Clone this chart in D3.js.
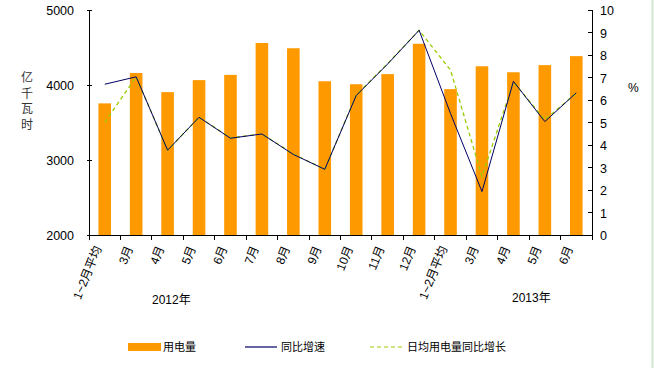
<!DOCTYPE html>
<html><head><meta charset="utf-8">
<script src="https://cdn.jsdelivr.net/npm/d3@7"></script>
<style>body{margin:0;background:#fff}svg{display:block}text{font-family:"Liberation Sans","Noto Sans CJK SC",sans-serif;fill:#000}</style>
</head><body>
<script>
const categories = ["1~2月平均","3月","4月","5月","6月","7月","8月","9月","10月","11月","12月","1~2月平均","3月","4月","5月","6月"];
const usage = [3755, 4160, 3905, 4065, 4135, 4560, 4490, 4050, 4010, 4145, 4550, 3945, 4250, 4170, 4265, 4385];
const yoy = [6.7, 7.03, 3.77, 5.23, 4.3, 4.49, 3.58, 2.92, 6.2, 7.6, 9.1, 5.4, 1.93, 6.83, 5.04, 6.32];
const dailyYoy = [5.0, 7.03, 3.77, 5.23, 4.32, 4.49, 3.6, 2.92, 6.22, 7.62, 9.1, 7.33, 2.6, 6.8, 5.12, 6.3];
const leftTicks = [2000, 3000, 4000, 5000];
const rightTicks = [0,1,2,3,4,5,6,7,8,9,10];
const years = ["2012年", "2013年"];
const seriesNames = ["用电量", "同比增速", "日均用电量同比增长"];

const W = 654, H = 368;
const svg = d3.select("body").append("svg").attr("width", W).attr("height", H);
svg.append("rect").attr("width", W).attr("height", H).attr("fill", "#fff");
svg.append("line").attr("x1", 652.5).attr("x2", 652.5).attr("y1", 0).attr("y2", H).attr("stroke", "#cfe8cf").attr("stroke-width", 2);

const L = 89, R = 592, T = 10, B = 235;
const x = d3.scaleBand().domain(d3.range(categories.length)).range([L, R]);
const yL = d3.scaleLinear().domain([2000, 5000]).range([B, T]);
const yR = d3.scaleLinear().domain([0, 10]).range([B, T]);
const bw = x.bandwidth() * 0.4;

// bars
svg.append("g").selectAll("rect").data(usage).join("rect")
  .attr("x", (d, i) => x(i) + x.bandwidth() / 2 - bw / 2)
  .attr("y", d => yL(d)).attr("width", bw).attr("height", d => yL(2000) - yL(d))
  .attr("fill", "#FF9900");

// lines
const line = d3.line().x((d, i) => x(i) + x.bandwidth() / 2);
svg.append("path").datum(dailyYoy).attr("d", line.y(d => yR(d)))
  .attr("fill", "none").attr("stroke", "#99CC00").attr("stroke-width", 1.3).attr("stroke-dasharray", "4,3");
svg.append("path").datum(yoy).attr("d", line.y(d => yR(d)))
  .attr("fill", "none").attr("stroke", "#000066").attr("stroke-width", 1);

// axes
const ax = svg.append("g").attr("stroke", "#000").attr("stroke-width", 1).attr("shape-rendering", "crispEdges");
ax.append("line").attr("x1", L).attr("x2", L).attr("y1", T).attr("y2", B);
ax.append("line").attr("x1", R).attr("x2", R).attr("y1", T).attr("y2", B);
ax.append("line").attr("x1", L).attr("x2", R).attr("y1", B).attr("y2", B);
leftTicks.forEach(t => ax.append("line").attr("x1", L - 2).attr("x2", L + 3).attr("y1", yL(t)).attr("y2", yL(t)));
rightTicks.forEach(t => ax.append("line").attr("x1", R - 4).attr("x2", R).attr("y1", yR(t)).attr("y2", yR(t)));
d3.range(categories.length + 1).forEach(i => {
  const xx = i < categories.length ? x(i) : R;
  ax.append("line").attr("x1", xx).attr("x2", xx).attr("y1", B).attr("y2", B + 5);
});

svg.append("g").selectAll("text").data(leftTicks).join("text")
  .attr("x", 74).attr("y", d => yL(d) + 5).attr("text-anchor", "end").attr("font-size", 12.5).text(d => d);
svg.append("g").selectAll("text").data(rightTicks).join("text")
  .attr("x", 600).attr("y", d => yR(d) + 5).attr("font-size", 12.5).text(d => d);
svg.append("text").attr("x", 628).attr("y", 92).attr("font-size", 12).text("%");

["亿","千","瓦","时"].forEach((c, i) => svg.append("text").attr("x", 27).attr("y", 82 + i * 15.5)
  .attr("text-anchor", "middle").attr("font-size", 12).style("fill", "#333").text(c));

// category labels
svg.append("g").selectAll("text").data(categories).join("text")
  .attr("transform", (d, i) => `translate(${x(i) + x.bandwidth() / 2 - 3},${B + 13}) rotate(-68)`)
  .attr("text-anchor", "end").attr("font-size", 12).text(d => d);

svg.append("text").attr("x", 152).attr("y", 304).attr("font-size", 12).text(years[0]);
svg.append("text").attr("x", 512).attr("y", 302).attr("font-size", 12).text(years[1]);

// legend
const lg = svg.append("g");
lg.append("rect").attr("x", 128).attr("y", 343).attr("width", 33).attr("height", 8).attr("fill", "#FF9900");
lg.append("text").attr("x", 163).attr("y", 351).attr("font-size", 11).text(seriesNames[0]);
lg.append("line").attr("x1", 245).attr("x2", 277).attr("y1", 347).attr("y2", 347).attr("stroke", "#000066").attr("stroke-width", 1.2);
lg.append("text").attr("x", 281).attr("y", 351).attr("font-size", 11).text(seriesNames[1]);
lg.append("line").attr("x1", 370).attr("x2", 404).attr("y1", 347).attr("y2", 347).attr("stroke", "#99CC00").attr("stroke-width", 1.2).attr("stroke-dasharray", "4,3");
lg.append("text").attr("x", 407).attr("y", 351).attr("font-size", 11).text(seriesNames[2]);
</script>
</body></html>
